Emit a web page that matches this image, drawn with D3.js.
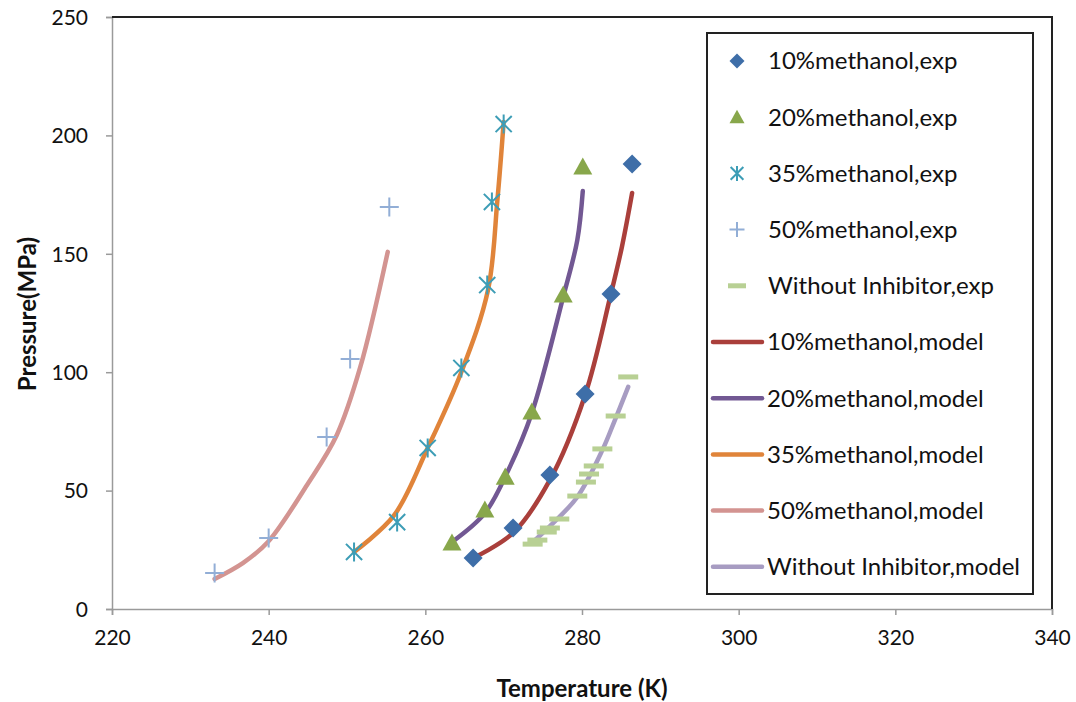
<!DOCTYPE html>
<html>
<head>
<meta charset="utf-8">
<script src="https://cdn.jsdelivr.net/npm/d3@7"></script>
<style>
  html, body { margin: 0; padding: 0; background: #fff; }
  svg { display: block; font-family: Lato, "Open Sans", sans-serif; }
</style>
</head>
<body>
<svg id="chart" width="1076" height="702"></svg>
<script>
// ---------- data ----------
const xTicks = [220, 240, 260, 280, 300, 320, 340];
const yTicks = [0, 50, 100, 150, 200, 250];

const exp10T = [266.1, 271.2, 275.9, 280.4, 283.7, 286.4];
const exp10P = [21.5, 34.2, 56.6, 90.8, 133.0, 187.9];

const exp20T = [263.4, 267.6, 270.2, 273.6, 277.6, 280.1];
const exp20P = [27.9, 41.8, 55.7, 83.2, 132.6, 186.7];

const exp35T = [250.9, 256.4, 260.3, 264.6, 267.9, 268.5, 270.0];
const exp35P = [24.1, 36.7, 68.0, 101.8, 136.8, 171.9, 204.8];

const exp50T = [233.1, 240.0, 247.4, 250.4, 255.4];
const exp50P = [15.2, 30.0, 72.6, 105.6, 169.8];

const expNoT = [273.7, 274.3, 275.5, 275.9, 277.1, 279.4, 280.5, 280.9, 281.5, 282.6, 284.3, 285.9];
const expNoP = [27.4, 29.1, 32.5, 34.2, 38.0, 47.7, 53.6, 57.0, 60.4, 67.6, 81.5, 98.0];

const mod10T = [266.1, 271.2, 275.9, 280.4, 283.6, 285.1, 286.4];
const mod10P = [21.5, 32.1, 54.5, 90.4, 131.8, 153.0, 175.7];

const mod20T = [263.4, 267.6, 270.6, 273.6, 277.6, 279.4, 280.1];
const mod20P = [28.3, 40.5, 58.7, 82.8, 131.8, 155.8, 176.5];

const mod35T = [250.9, 256.0, 260.3, 264.6, 268.0, 269.2, 270.0];
const mod35P = [24.1, 39.5, 68.0, 100.1, 134.7, 172.7, 205.7];

const mod50T = [233.1, 236.7, 239.9, 244.9, 248.7, 251.7, 255.2];
const mod50P = [12.7, 19.4, 28.3, 52.4, 73.5, 102.2, 150.8];

const modNoT = [273.6, 276.3, 279.4, 282.6, 284.2, 285.9];
const modNoP = [27.9, 36.3, 47.3, 67.1, 79.8, 93.8];

const expNames = ["10%methanol,exp", "20%methanol,exp", "35%methanol,exp", "50%methanol,exp", "Without Inhibitor,exp"];
const modNames = ["10%methanol,model", "20%methanol,model", "35%methanol,model", "50%methanol,model", "Without Inhibitor,model"];

// ---------- setup ----------
const svg = d3.select("#chart");
const L = 112, R = 1052, T = 17, B = 609;
const x = d3.scaleLinear().domain([220, 340]).range([L, R]);
const y = d3.scaleLinear().domain([0, 250]).range([B, T]);

const zip = (a, b) => a.map((v, i) => [v, b[i]]);

const expSeries = [
  {name: expNames[0], data: zip(exp10T, exp10P), shape: "diamond", color: "#3E6EA8"},
  {name: expNames[1], data: zip(exp20T, exp20P), shape: "triangle", color: "#88A74B"},
  {name: expNames[2], data: zip(exp35T, exp35P), shape: "asterisk", color: "#3D9DB6"},
  {name: expNames[3], data: zip(exp50T, exp50P), shape: "plus", color: "#92AED6"},
  {name: expNames[4], data: zip(expNoT, expNoP), shape: "dash", color: "#B8D094"}
];
const modSeries = [
  {name: modNames[0], data: zip(mod10T, mod10P), color: "#AA3F3B"},
  {name: modNames[1], data: zip(mod20T, mod20P), color: "#725893"},
  {name: modNames[2], data: zip(mod35T, mod35P), color: "#E0843A"},
  {name: modNames[3], data: zip(mod50T, mod50P), color: "#D39491"},
  {name: modNames[4], data: zip(modNoT, modNoP), color: "#A79CC2"}
];

// ---------- axes ----------
const gx = svg.append("g").attr("transform", `translate(0,${B})`)
  .call(d3.axisBottom(x).tickValues(xTicks).tickSize(6).tickPadding(15));
const gy = svg.append("g").attr("transform", `translate(${L},0)`)
  .call(d3.axisLeft(y).tickValues(yTicks).tickSize(6).tickPadding(18));
[gx, gy].forEach(g => {
  g.select(".domain").attr("stroke", "#9a9a9a").attr("stroke-width", 1.5);
  g.selectAll(".tick line").attr("stroke", "#9a9a9a").attr("stroke-width", 1.5);
  g.selectAll(".tick text").attr("fill", "#111").style("font-size", "21px")
    .style("font-family", "Lato, sans-serif");
});
gy.selectAll(".tick text").attr("dy", "0.35em");

// top and right frame
svg.append("path")
  .attr("d", `M${L},${T}H${R}V${B}`)
  .attr("fill", "none").attr("stroke", "#222").attr("stroke-width", 2);

// axis titles
svg.append("text").attr("x", 582).attr("y", 697).attr("text-anchor", "middle")
  .style("font-size", "24px").style("font-weight", "bold")
  .attr("fill", "#111").text("Temperature (K)");
svg.append("text").attr("transform", "translate(36,314) rotate(-90)").attr("text-anchor", "middle")
  .style("font-size", "24px").style("font-weight", "bold")
  .attr("fill", "#111").text("Pressure(MPa)");

// ---------- model lines ----------
const line = d3.line().x(d => x(d[0])).y(d => y(d[1])).curve(d3.curveCatmullRom.alpha(0.5));
svg.append("g").selectAll("path").data(modSeries).join("path")
  .attr("d", d => line(d.data))
  .attr("fill", "none").attr("stroke", d => d.color)
  .attr("stroke-width", 4.5).attr("stroke-linecap", "round");

// ---------- markers ----------
function drawMarker(g, shape, color, s) {
  if (shape === "diamond") {
    g.append("path").attr("d", `M0,${-s}L${s},0L0,${s}L${-s},0Z`).attr("fill", color);
  } else if (shape === "triangle") {
    g.append("path").attr("d", `M0,${-s}L${s},${s * 0.8}L${-s},${s * 0.8}Z`).attr("fill", color);
  } else if (shape === "asterisk") {
    const a = s * 0.85;
    g.append("path").attr("d", `M${-a},${-a}L${a},${a}M${-a},${a}L${a},${-a}M0,${-s}V${s}`)
      .attr("stroke", color).attr("stroke-width", 2).attr("fill", "none");
  } else if (shape === "plus") {
    g.append("path").attr("d", `M${-s},0H${s}M0,${-s}V${s}`)
      .attr("stroke", color).attr("stroke-width", 2).attr("fill", "none");
  } else if (shape === "dash") {
    g.append("rect").attr("x", -s).attr("y", -2.5).attr("width", 2 * s).attr("height", 5).attr("fill", color);
  }
}

expSeries.forEach(sr => {
  const g = svg.append("g");
  sr.data.forEach(d => {
    const m = g.append("g").attr("transform", `translate(${x(d[0])},${y(d[1])})`);
    drawMarker(m, sr.shape, sr.color, sr.shape === "dash" ? 10 : 9.5);
  });
});

// ---------- legend ----------
const lg = svg.append("g");
lg.append("rect").attr("x", 707).attr("y", 33).attr("width", 326).attr("height", 561)
  .attr("fill", "#fff").attr("stroke", "#222").attr("stroke-width", 2);
const rowY = i => 61 + i * 56.2;
expSeries.forEach((sr, i) => {
  const m = lg.append("g").attr("transform", `translate(737,${rowY(i)})`);
  drawMarker(m, sr.shape, sr.color, sr.shape === "dash" ? 9 : 7.5);
  lg.append("text").attr("x", 768).attr("y", rowY(i)).attr("dy", "0.35em")
    .style("font-size", "24px").attr("fill", "#111").text(sr.name);
});
modSeries.forEach((sr, i) => {
  const yy = rowY(i + 5);
  lg.append("line").attr("x1", 713).attr("x2", 762).attr("y1", yy).attr("y2", yy)
    .attr("stroke", sr.color).attr("stroke-width", 4.5).attr("stroke-linecap", "round");
  lg.append("text").attr("x", 767).attr("y", yy).attr("dy", "0.35em")
    .style("font-size", "24px").attr("fill", "#111").text(sr.name);
});
</script>
</body>
</html>
